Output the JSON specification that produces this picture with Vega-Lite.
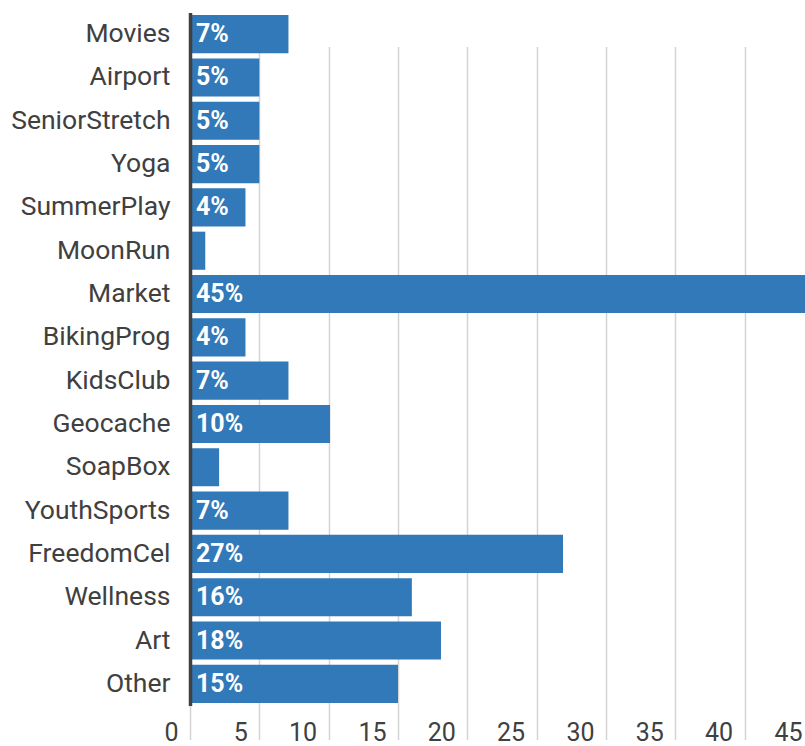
{
  "$schema": "https://vega.github.io/schema/vega-lite/v6.json",
  "autosize": "none",
  "width": 615,
  "height": 740,
  "padding": {"left": 190, "top": 6, "right": 0, "bottom": 0},
  "background": "white",
  "config": {"view": {"stroke": null}, "font": "Roboto"},
  "data": {
    "values": [
      {"category": "Movies", "value": 7.1, "label": "7%"},
      {"category": "Airport", "value": 5.0, "label": "5%"},
      {"category": "SeniorStretch", "value": 5.0, "label": "5%"},
      {"category": "Yoga", "value": 5.0, "label": "5%"},
      {"category": "SummerPlay", "value": 4.0, "label": "4%"},
      {"category": "MoonRun", "value": 1.1, "label": ""},
      {"category": "Market", "value": 45.2, "label": "45%"},
      {"category": "BikingProg", "value": 4.0, "label": "4%"},
      {"category": "KidsClub", "value": 7.1, "label": "7%"},
      {"category": "Geocache", "value": 10.1, "label": "10%"},
      {"category": "SoapBox", "value": 2.1, "label": ""},
      {"category": "YouthSports", "value": 7.1, "label": "7%"},
      {"category": "FreedomCel", "value": 26.9, "label": "27%"},
      {"category": "Wellness", "value": 16.0, "label": "16%"},
      {"category": "Art", "value": 18.1, "label": "18%"},
      {"category": "Other", "value": 15.0, "label": "15%"}
    ]
  },
  "encoding": {
    "y": {
      "field": "category",
      "type": "nominal",
      "sort": null,
      "scale": {"range": [6.5, 699.5], "paddingInner": 0.12, "paddingOuter": 0.06},
      "axis": {
        "title": null,
        "ticks": false,
        "labelPadding": 20,
        "labelFontSize": 26.5,
        "labelColor": "#404040",
        "labelFont": "Roboto",
        "domainColor": "#404040",
        "domainWidth": 3.5,
        "zindex": 1
      }
    }
  },
  "layer": [
    {
      "mark": {"type": "bar", "color": "#3179b8"},
      "encoding": {
        "x": {
          "field": "value",
          "type": "quantitative",
          "scale": {"domain": [0, 45], "range": [0, 624], "nice": false, "zero": true},
          "axis": {
            "title": null,
            "values": [0, 5, 10, 15, 20, 25, 30, 35, 40, 45],
            "grid": true,
            "gridColor": "#d4d4d4",
            "gridWidth": 1.5,
            "domain": false,
            "ticks": false,
            "labelAlign": "right",
            "labelOffset": -12,
            "labelBaseline": "middle",
            "labelPadding": 0,
            "offset": -14,
            "labelFontSize": 25,
            "labelColor": "#404040",
            "labelFont": "Roboto",
            "labelFlush": false,
            "labelOverlap": false
          }
        }
      }
    },
    {
      "mark": {"type": "text", "align": "left", "baseline": "middle", "dx": 6, "font": "Roboto", "fontWeight": "bold", "fontSize": 25, "color": "white"},
      "encoding": {
        "x": {"datum": 0, "type": "quantitative"},
        "text": {"field": "label"}
      }
    }
  ]
}
